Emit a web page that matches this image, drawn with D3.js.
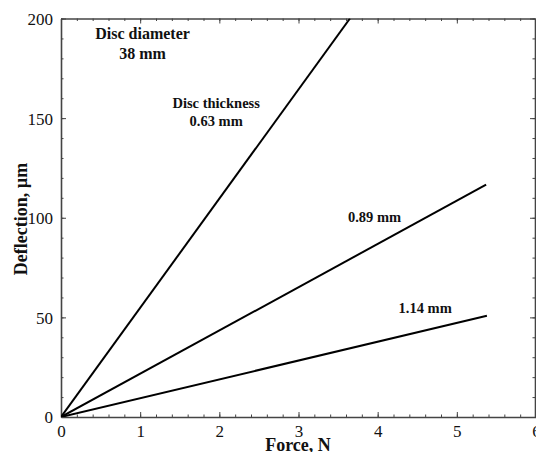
<!DOCTYPE html>
<html><head><meta charset="utf-8">
<script src="https://cdn.jsdelivr.net/npm/d3@7"></script>
<style>
html,body{margin:0;padding:0;background:#fff;}
svg{display:block;}
text{font-family:"Liberation Serif","Times New Roman",serif;}
</style></head>
<body>
<script>
// ---- data ----
const seriesNames = ["0.63 mm", "0.89 mm", "1.14 mm"];
const forceEnd = [3.65, 5.37, 5.38];        // N
const deflectionEnd = [200, 116.6, 50.8];   // µm
const xTicks = [0, 1, 2, 3, 4, 5, 6];
const yTicks = [0, 50, 100, 150, 200];
const annotations = [
  {lines: ["Disc diameter", "38 mm"], x: 1.03, y: 189.5, size: 16},
  {lines: ["Disc thickness", "0.63 mm"], x: 1.96, y: 155, size: 14.5},
  {lines: ["0.89 mm"], x: 3.96, y: 98, size: 14.5},
  {lines: ["1.14 mm"], x: 4.6, y: 52, size: 14.5}
];

const W = 536, H = 452;
const svg = d3.select("body").append("svg").attr("width", W).attr("height", H);
const x = d3.scaleLinear().domain([0, 6]).range([61, 536]);
const y = d3.scaleLinear().domain([0, 200]).range([417, 18.5]);
const axisColor = "#444";

// minor ticks
const xMinor = d3.range(0, 6.0001, 0.2).map(v => +v.toFixed(2));
const yMinor = d3.range(0, 200.001, 10);

function styleAxis(g) {
  g.selectAll("path").attr("stroke", axisColor).attr("stroke-width", 1.6);
  g.selectAll("line").attr("stroke", axisColor).attr("stroke-width", 1);
  g.selectAll("text").attr("fill", "#111").style("font-size", "17px")
    .style("font-family", "'Liberation Serif','Times New Roman',serif");
}

// bottom
const gB = svg.append("g").attr("transform", `translate(0,${y(0)})`);
gB.call(d3.axisBottom(x).tickValues(xMinor).tickSize(-2.5).tickFormat("").tickSizeOuter(0));
gB.append("g").call(d3.axisBottom(x).tickValues(xTicks).tickSize(-5).tickSizeOuter(0).tickPadding(8).tickFormat(d3.format("d")));
gB.selectAll("g g .domain").remove();
styleAxis(gB);

// top
const gT = svg.append("g").attr("transform", `translate(0,${y(200)})`);
gT.call(d3.axisTop(x).tickValues(xMinor).tickSize(-2.5).tickFormat("").tickSizeOuter(0));
gT.append("g").call(d3.axisTop(x).tickValues(xTicks).tickSize(-5).tickFormat("").tickSizeOuter(0));
gT.selectAll("g g .domain").remove();
styleAxis(gT);

// left
const gL = svg.append("g").attr("transform", `translate(${x(0)},0)`);
gL.call(d3.axisLeft(y).tickValues(yMinor).tickSize(-2.5).tickFormat("").tickSizeOuter(0));
gL.append("g").call(d3.axisLeft(y).tickValues(yTicks).tickSize(-5).tickSizeOuter(0).tickPadding(8).tickFormat(d3.format("d")));
gL.selectAll("g g .domain").remove();
styleAxis(gL);
gL.selectAll("text").attr("dy", "0.35em");

// right
const gR = svg.append("g").attr("transform", `translate(${x(6) - 1},0)`);
gR.call(d3.axisRight(y).tickValues(yMinor).tickSize(-2.5).tickFormat("").tickSizeOuter(0));
gR.append("g").call(d3.axisRight(y).tickValues(yTicks).tickSize(-5).tickFormat("").tickSizeOuter(0));
gR.selectAll("g g .domain").remove();
styleAxis(gR);

// lines
const line = d3.line().x(d => x(d[0])).y(d => y(d[1]));
svg.append("defs").append("clipPath").attr("id", "clip")
  .append("rect").attr("x", x(0)).attr("y", y(200)).attr("width", x(6) - x(0)).attr("height", y(0) - y(200));
seriesNames.forEach((name, i) => {
  svg.append("path")
    .datum([[0, 0], [forceEnd[i], deflectionEnd[i]]])
    .attr("d", line)
    .attr("fill", "none").attr("stroke", "#000").attr("stroke-width", 2)
    .attr("clip-path", "url(#clip)");
});

// annotations
annotations.forEach(a => {
  const t = svg.append("text")
    .attr("x", x(a.x)).attr("y", y(a.y))
    .attr("text-anchor", "middle")
    .style("font-size", a.size + "px").style("font-weight", "bold").attr("fill", "#111");
  a.lines.forEach((l, j) => {
    t.append("tspan").attr("x", x(a.x)).attr("dy", j === 0 ? 0 : a.size * 1.2).text(l);
  });
});

// axis titles
svg.append("text").attr("x", 298).attr("y", 451).attr("text-anchor", "middle")
  .style("font-size", "18px").style("font-weight", "bold").attr("fill", "#111").text("Force, N");
svg.append("text").attr("transform", "translate(27,219) rotate(-90)").attr("text-anchor", "middle")
  .style("font-size", "18px").style("font-weight", "bold").attr("fill", "#111").text("Deflection, µm");
</script>
</body></html>
